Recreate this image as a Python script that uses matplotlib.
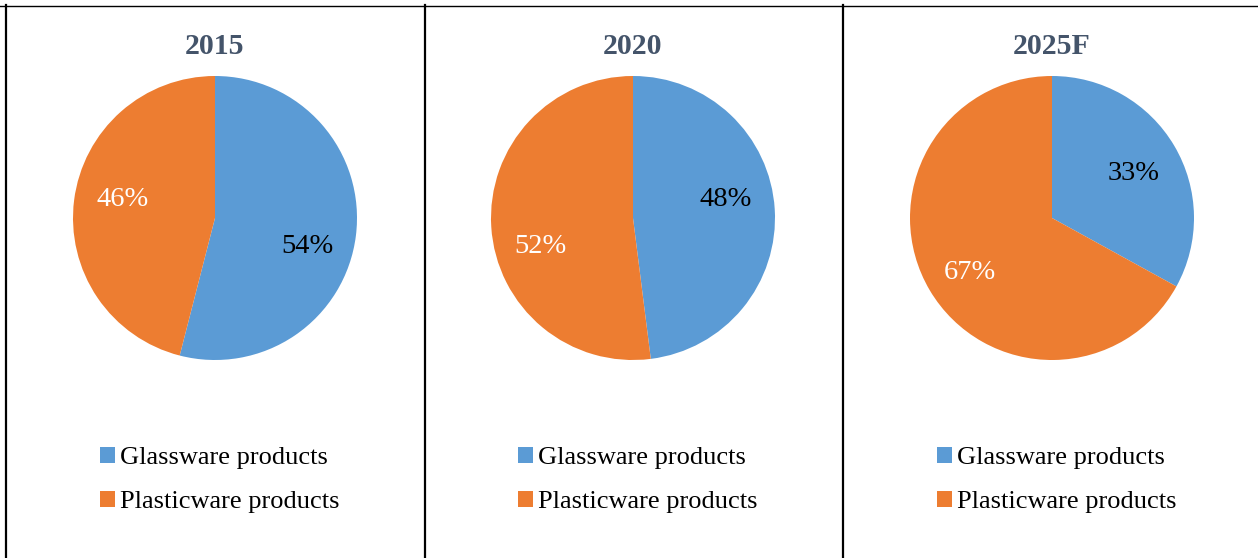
import numpy as np
import matplotlib.pyplot as plt
from matplotlib.patches import Patch
from matplotlib.lines import Line2D

years = ['2015', '2020', '2025F']
categories = ['Glassware products', 'Plasticware products']
glassware = [54, 48, 33]
plasticware = [46, 52, 67]

colors = ['#5B9BD5', '#ED7D31']
label_colors = ['black', 'white']
title_color = '#44546A'

W, H = 1258, 558
plt.rcParams['font.family'] = ['Liberation Serif', 'DejaVu Serif']

fig = plt.figure(figsize=(W / 100, H / 100), dpi=100)
fig.patch.set_facecolor('white')

centers_x = [215, 633, 1052]
cy, r = 218, 142

for i, year in enumerate(years):
  cx = centers_x[i]
  ax = fig.add_axes([(cx - r) / W, 1 - (cy + r) / H, 2 * r / W, 2 * r / H])
  vals = [glassware[i], plasticware[i]]
  wedges, texts = ax.pie(vals, colors=colors, startangle=90, counterclock=False,
                         wedgeprops=dict(linewidth=0))
  # percentage labels, kept a bit away from the horizontal like Excel does
  for w, v, c in zip(wedges, vals, label_colors):
    mid = np.deg2rad((w.theta1 + w.theta2) / 2)
    ang = np.arctan2(np.sin(mid), np.cos(mid))
    side = np.sign(np.cos(ang))
    elev = np.arcsin(np.sin(ang))
    if abs(elev) < np.deg2rad(14):
      elev = np.deg2rad(14) * (1 if elev >= 0 else -1)
    x = 0.67 * side * np.cos(elev)
    y = 0.69 * np.sin(elev) - 0.035
    ax.text(x, y, '%d%%' % v, ha='center', va='center', fontsize=20.5, color=c)
  ax.set_xlim(-1, 1)
  ax.set_ylim(-1, 1)
  ax.axis('off')

  fig.text(cx / W, 1 - 46 / H, year, ha='center', va='center', fontsize=21.5,
           fontweight='bold', color=title_color)

  handles = [Patch(facecolor=c, edgecolor='none') for c in colors]
  fig.legend(handles, categories, loc='upper left',
             bbox_to_anchor=((cx - 115) / W, 1 - 447 / H), frameon=False,
             fontsize=19, handlelength=0.55, handleheight=0.55, handletextpad=0.2,
             labelspacing=0.82, borderaxespad=0, borderpad=0)

# table borders
def hline(y, x0, x1, lw):
  fig.add_artist(Line2D([x0 / W, x1 / W], [1 - y / H, 1 - y / H], color='black', lw=lw))

def vline(x, y0, y1, lw):
  fig.add_artist(Line2D([x / W, x / W], [1 - y0 / H, 1 - y1 / H], color='black', lw=lw))

hline(5.5, 0, W, 1.0)
for x in [6, 425, 843]:
  vline(x, 5, H, 1.6)

fig.savefig('out.png', dpi=100)
